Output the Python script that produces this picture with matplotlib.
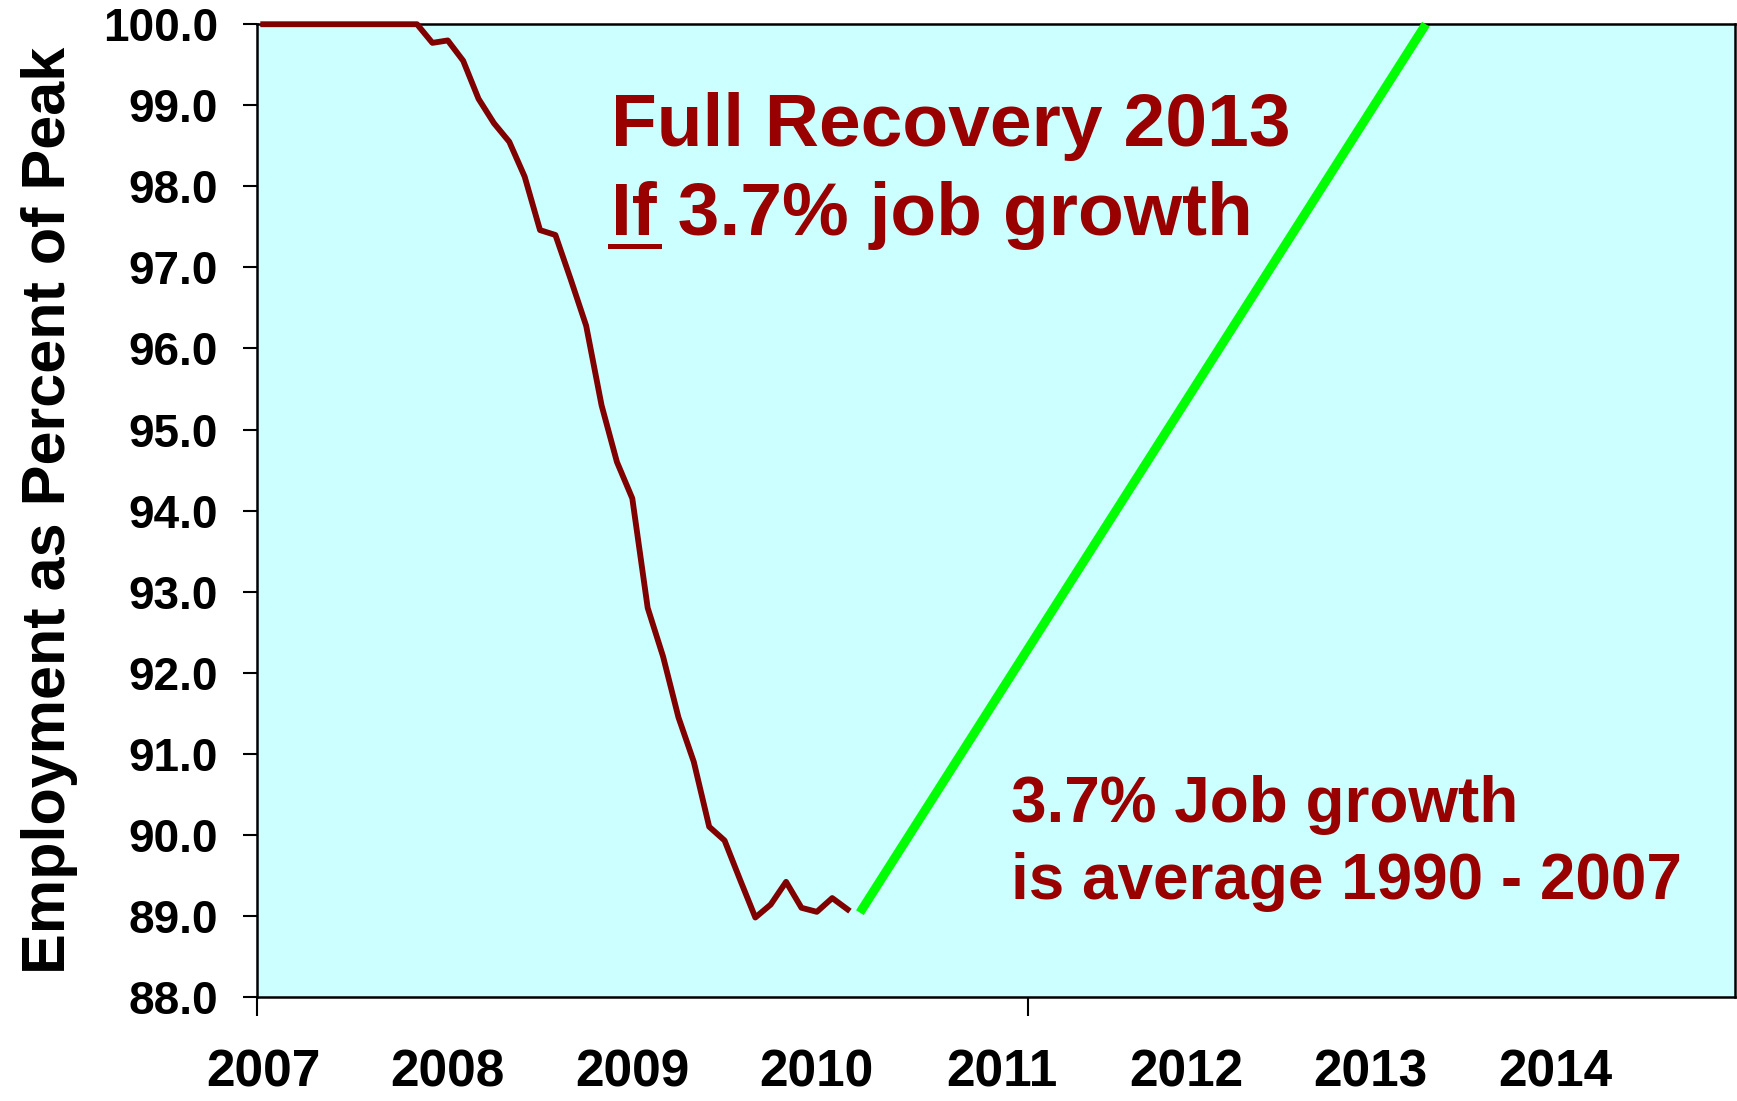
import matplotlib
matplotlib.use('Agg')
import matplotlib.pyplot as plt
from matplotlib.lines import Line2D

# Monthly employment, month 0 = Jan 2007
months = list(range(39))
employment = [100.0, 100.0, 100.0, 100.0, 100.0, 100.0, 100.0, 100.0, 100.0, 100.0, 100.0,
              99.77, 99.80, 99.55, 99.08, 98.78, 98.55, 98.12, 97.46, 97.40, 96.85,
              96.28, 95.30, 94.60, 94.15, 92.80, 92.20, 91.45, 90.90, 90.10, 89.93,
              89.45, 88.98, 89.14, 89.42, 89.10, 89.05, 89.22, 89.08]

# 3.7% growth projection back to peak
projection_months = [38.8, 75.6]
projection_values = [89.04, 100.0]

year_positions = [0, 12, 24, 36, 48, 60, 72, 84]
year_labels = ['2007', '2008', '2009', '2010', '2011', '2012', '2013', '2014']
y_ticks = [88, 89, 90, 91, 92, 93, 94, 95, 96, 97, 98, 99, 100]

FONT = 'Liberation Sans'
TEXT_RED = '#990000'

fig = plt.figure(figsize=(17.37, 11.01), dpi=100)
ax = fig.add_axes([0.148, 0.0945, 0.8508, 0.8835])
ax.set_facecolor('#CCFFFF')

ax.plot(months, employment, color='#800000', linewidth=4.2, clip_on=False, zorder=3,
        solid_joinstyle='round')
ax.plot(projection_months, projection_values, color='#00FF00', linewidth=6.5,
        solid_capstyle='butt', clip_on=False, zorder=3)

ax.set_xlim(-0.4, 95.7)
ax.set_ylim(88, 100)

ax.set_yticks(y_ticks)
ax.set_yticklabels([f'{v:.1f}' for v in y_ticks], fontsize=33, fontweight='bold', family=FONT)
ax.tick_params(axis='y', length=10, width=1.5, pad=18, direction='out')

ax.set_xticks(year_positions)
ax.set_xticklabels(year_labels, fontsize=37, fontweight='bold', family=FONT)
ax.tick_params(axis='x', which='major', length=0, pad=37)
# the two odd tick marks on the x axis
ax.set_xticks([-0.4, 49.7], minor=True)
ax.tick_params(axis='x', which='minor', length=14, width=1.5, direction='out')

for s in ax.spines.values():
    s.set_linewidth(1.8)
    s.set_color('black')

ax.set_ylabel('Employment as Percent of Peak', fontsize=44, fontweight='bold',
              family=FONT, labelpad=18)

# annotations
fig.text(0.352, 0.867, 'Full Recovery 2013', fontsize=54, fontweight='bold',
         family=FONT, color=TEXT_RED, va='baseline')
fig.text(0.352, 0.787, 'If 3.7% job growth', fontsize=54, fontweight='bold',
         family=FONT, color=TEXT_RED, va='baseline')
t_if = fig.text(0.352, 0.787, 'If', fontsize=54, fontweight='bold',
                family=FONT, color=TEXT_RED, va='baseline', alpha=0)

fig.text(0.582, 0.2534, '3.7% Job growth', fontsize=46, fontweight='bold',
         family=FONT, color=TEXT_RED, va='baseline')
fig.text(0.582, 0.1835, 'is average 1990 - 2007', fontsize=46, fontweight='bold',
         family=FONT, color=TEXT_RED, va='baseline')

# underline the "If"
fig.canvas.draw()
bb = t_if.get_window_extent(fig.canvas.get_renderer()).transformed(fig.transFigure.inverted())
fig.add_artist(Line2D([bb.x0 - 0.001, bb.x1 + 0.001], [0.7765, 0.7765], color=TEXT_RED,
                      linewidth=3.6, transform=fig.transFigure))

fig.savefig('out.png', dpi=100)
